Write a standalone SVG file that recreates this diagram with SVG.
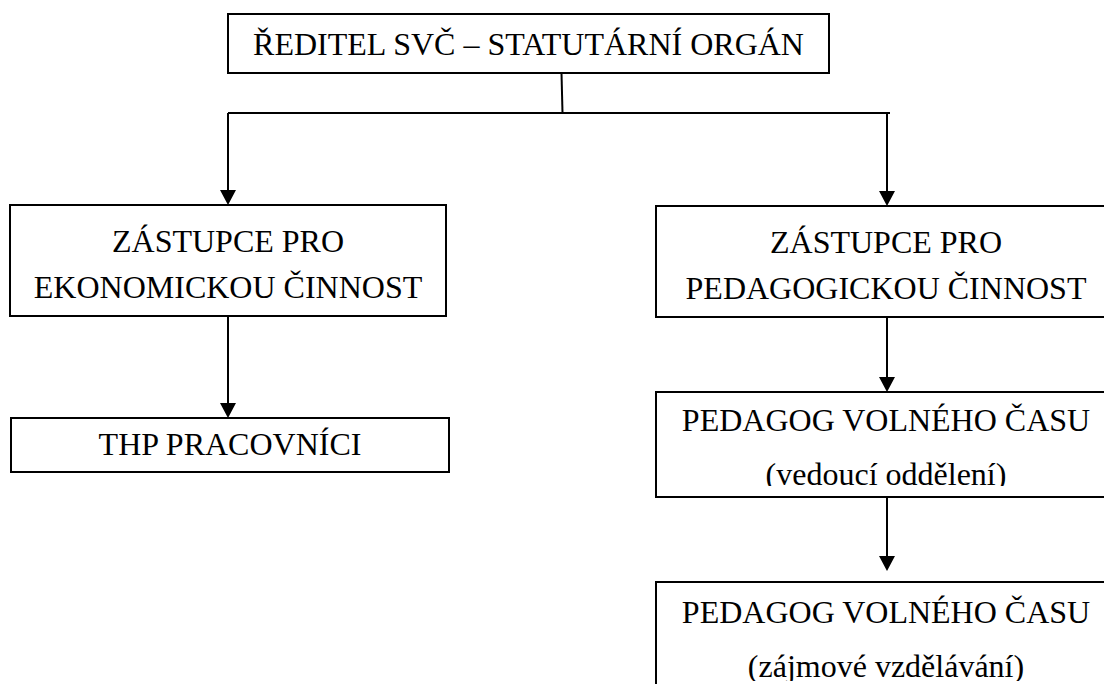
<svg xmlns="http://www.w3.org/2000/svg" width="1104" height="684" viewBox="0 0 1104 684">
<defs>
<style>
.box{fill:#fff;stroke:#000;stroke-width:2}
.t{font-family:"Liberation Serif","Times New Roman",serif;font-size:32px;fill:#000;text-anchor:middle}
.c{fill:none;stroke:#000;stroke-width:2}
</style>
<marker id="ah" markerWidth="16" markerHeight="16" viewBox="0 0 16 16" refX="8" refY="16" orient="auto-start-reverse" markerUnits="userSpaceOnUse">
<path d="M0,0 L16,0 L8,16 Z" fill="#000" transform="rotate(-90 8 8)"/>
</marker>
<clipPath id="cp3"><rect x="656" y="391" width="460" height="95"/></clipPath>
<clipPath id="cp4"><rect x="656" y="582" width="460" height="99"/></clipPath>
</defs>
<rect width="1104" height="684" fill="#fff"/>
<g id="connectors">
<path class="c" d="M561.5,73 L562.5,113"/>
<path class="c" d="M228,113 L890,113"/>
<path class="c" d="M228,113 L228,190"/>
<polygon points="220,190 236,190 228,205"/>
<path class="c" d="M887,113 L887,191"/>
<polygon points="879,191 895,191 887,206"/>
<path class="c" d="M228,316 L228,403"/>
<polygon points="220,403 236,403 228,418"/>
<path class="c" d="M887,317 L887,377"/>
<polygon points="879,377 895,377 887,392"/>
<path class="c" d="M887,497 L887,556"/>
<polygon points="879,556 895,556 887,571"/>
</g>
<g id="director">
<rect class="box" x="228" y="14" width="601" height="59"/>
<text class="t" x="528.5" y="55">ŘEDITEL SVČ – STATUTÁRNÍ ORGÁN</text>
</g>
<g id="deputy-econ">
<rect class="box" x="10" y="205" width="436" height="111"/>
<text class="t" x="228" y="252">ZÁSTUPCE PRO</text>
<text class="t" x="228" y="298">EKONOMICKOU ČINNOST</text>
</g>
<g id="thp">
<rect class="box" x="11" y="418" width="438" height="54"/>
<text class="t" x="230" y="455">THP PRACOVNÍCI</text>
</g>
<g id="deputy-ped">
<rect class="box" x="656" y="206" width="460" height="111"/>
<text class="t" x="886" y="253">ZÁSTUPCE PRO</text>
<text class="t" x="886" y="299">PEDAGOGICKOU ČINNOST</text>
</g>
<g id="ped-head">
<rect class="box" x="656" y="392" width="460" height="105"/>
<g clip-path="url(#cp3)">
<text class="t" x="886" y="431">PEDAGOG VOLNÉHO ČASU</text>
<text class="t" x="886" y="485">(vedoucí oddělení)</text>
</g>
</g>
<g id="ped-interest">
<rect class="box" x="656" y="582" width="460" height="120"/>
<g clip-path="url(#cp4)">
<text class="t" x="886" y="623">PEDAGOG VOLNÉHO ČASU</text>
<text class="t" x="886" y="677">(zájmové vzdělávání)</text>
</g>
</g>
</svg>
